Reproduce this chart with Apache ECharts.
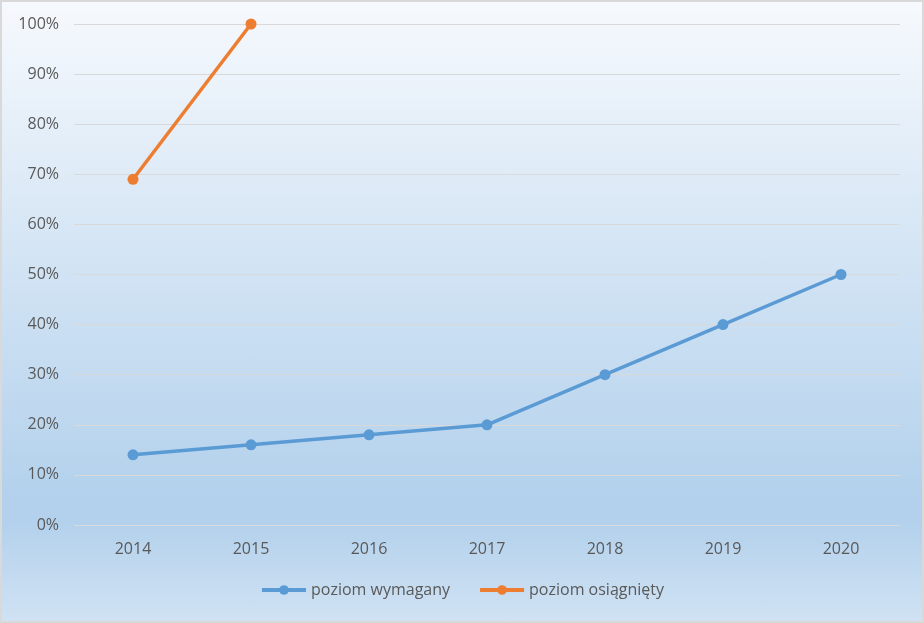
<!DOCTYPE html>
<html>
<head>
<meta charset="utf-8">
<script src="https://cdn.jsdelivr.net/npm/echarts@6/dist/echarts.min.js"></script>
<style>
  html, body { margin: 0; padding: 0; }
  .chart-box {
    width: 924px;
    height: 623px;
    box-sizing: border-box;
    border: 2px solid #d9d9d9;
    background: linear-gradient(to bottom, #f6f9fd 0%, #b3d1ec 80%, #b3d1ec 84%, #d0e2f3 100%);
  }
  #chart { width: 920px; height: 619px; }
</style>
</head>
<body>
<div class="chart-box"><div id="chart"></div></div>
<script>
const years = ['2014', '2015', '2016', '2017', '2018', '2019', '2020']
const required = [14, 16, 18, 20, 30, 40, 50]
const achieved = [69, 100, null, null, null, null, null]
const seriesNames = ['poziom wymagany', 'poziom osiągnięty']

const textColor = '#595959'
const fontFamily = '"Open Sans", "Noto Sans", sans-serif'

const chart = echarts.init(document.getElementById('chart'))

function lineSeries(name, data, color) {
  return {
    name: name,
    type: 'line',
    data: data,
    symbol: 'circle',
    symbolSize: 11,
    connectNulls: false,
    lineStyle: { color: color, width: 3.5 },
    itemStyle: { color: color },
    emphasis: { disabled: true }
  }
}

chart.setOption({
  backgroundColor: 'transparent',
  animation: false,
  textStyle: { fontFamily: fontFamily },
  grid: { left: 72, right: 22, top: 22, bottom: 96 },
  legend: {
    data: seriesNames,
    bottom: 18,
    left: 'center',
    itemWidth: 44,
    itemHeight: 12,
    itemGap: 28,
    lineStyle: { width: 4 },
    textStyle: { color: textColor, fontSize: 16, fontFamily: fontFamily }
  },
  xAxis: {
    type: 'category',
    data: years,
    boundaryGap: true,
    axisLine: { show: false },
    axisTick: { show: false },
    axisLabel: { color: textColor, fontSize: 16, margin: 16 }
  },
  yAxis: {
    type: 'value',
    min: 0,
    max: 100,
    interval: 10,
    axisLine: { show: false },
    axisTick: { show: false },
    axisLabel: { color: textColor, fontSize: 16, margin: 15, formatter: '{value}%' },
    splitLine: { lineStyle: { color: '#d9d9d9', width: 1 } }
  },
  series: [
    lineSeries(seriesNames[0], required, '#5b9bd5'),
    lineSeries(seriesNames[1], achieved, '#ed7d31')
  ]
})
</script>
</body>
</html>
